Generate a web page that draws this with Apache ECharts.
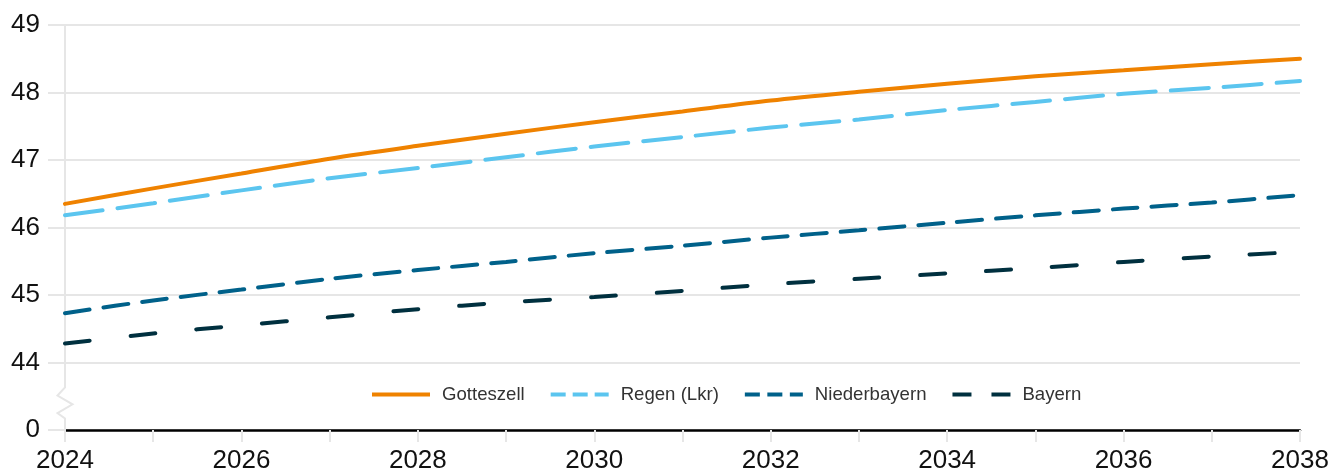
<!DOCTYPE html>
<html>
<head>
<meta charset="utf-8">
<script src="https://cdn.jsdelivr.net/npm/echarts@6/dist/echarts.min.js"></script>
<style>
html,body{margin:0;padding:0;background:#fff;}
#c{width:1335px;height:476px;}
</style>
</head>
<body>
<div id="c"></div>
<script>
const years = [2024,2025,2026,2027,2028,2029,2030,2031,2032,2033,2034,2035,2036,2037,2038];
const seriesNames = ['Gotteszell','Regen (Lkr)','Niederbayern','Bayern'];
const gotteszell   = [46.35,46.58,46.80,47.02,47.21,47.39,47.56,47.72,47.88,48.01,48.13,48.24,48.33,48.42,48.50];
const regen        = [46.18,46.36,46.55,46.73,46.88,47.04,47.20,47.34,47.48,47.60,47.74,47.86,47.98,48.07,48.17];
const niederbayern = [44.73,44.92,45.08,45.24,45.37,45.49,45.62,45.73,45.85,45.96,46.07,46.18,46.28,46.37,46.48];
const bayern       = [44.28,44.43,44.55,44.67,44.79,44.89,44.97,45.06,45.16,45.24,45.32,45.40,45.49,45.57,45.64];
// y axis: 43 stands for the broken-axis "0"
const yMin = 43, yMax = 49;
const yTickLabels = {43:'0',44:'44',45:'45',46:'46',47:'47',48:'48',49:'49'};
const xLabelYears = [2024,2026,2028,2030,2032,2034,2036,2038];

const colors = ['#EF8200','#5BC5EF','#00618A','#00303F'];
const dashes = ['solid',[38,15],[25,14],[25,41]];
const legendIcons = [
  'path://M0,0H58V4H0Z',
  'path://M0,0H15V4H0Z M22,0H37V4H22Z M44,0H58V4H44Z',
  'path://M0,0H15V4H0Z M22.5,0H37.5V4H22.5Z M45,0H58V4H45Z',
  'path://M0,0H19V4H0Z M39,0H58V4H39Z'
];
const values = [gotteszell, regen, niederbayern, bayern];

const FONT = 'Liberation Sans, Arial, Helvetica, sans-serif';
const GRID = '#e6e6e6';

const chart = echarts.init(document.getElementById('c'), null, {renderer:'canvas'});

const series = seriesNames.map((n,i)=>({
  name:n,
  type:'line',
  data: years.map((y,j)=>[y, values[i][j]]),
  symbol:'none',
  smooth:0.3,
  z: 10 - i,
  lineStyle:{color:colors[i], width:4, type:dashes[i], cap:'round'},
  itemStyle:{color:colors[i]},
  emphasis:{disabled:true}
}));

chart.setOption({
  animation:false,
  backgroundColor:'#fff',
  grid:{left:65,right:35,top:25,bottom:46},
  legend:{
    left:367, top:380,
    itemWidth:58, itemHeight:4, itemGap:26,
    itemStyle:{borderWidth:0},
    textStyle:{fontSize:18.6, color:'#333', fontFamily:FONT, padding:[0,0,0,7]},
    data: seriesNames.map((n,i)=>({name:n, icon:legendIcons[i], itemStyle:{color:colors[i], borderWidth:0}}))
  },
  xAxis:{
    type:'value', min:2024, max:2038, interval:1,
    axisLine:{show:true, lineStyle:{color:'#000', width:2.5}},
    axisTick:{show:true, length:12, lineStyle:{color:GRID, width:2}},
    splitLine:{show:false},
    axisLabel:{
      fontSize:26, color:'#111', fontFamily:FONT, margin:18,
      formatter:v => xLabelYears.indexOf(v) >= 0 ? String(v) : ''
    }
  },
  yAxis:{
    type:'value', min:yMin, max:yMax, interval:1,
    axisLine:{show:false},
    axisTick:{show:true, length:17, lineStyle:{color:GRID, width:2}},
    splitLine:{show:true, lineStyle:{color:GRID, width:2}},
    axisLabel:{
      fontSize:26, color:'#111', fontFamily:FONT, margin:25,
      formatter:v => yTickLabels[v] !== undefined ? yTickLabels[v] : ''
    }
  },
  series: series
});

// y axis line with break zigzag between 44 and "0"
const x0 = chart.convertToPixel({xAxisIndex:0}, 2024);
const yTop = chart.convertToPixel({yAxisIndex:0}, 49);
const y44 = chart.convertToPixel({yAxisIndex:0}, 44);
const y43 = chart.convertToPixel({yAxisIndex:0}, 43);
const d = y43 - y44;
chart.setOption({
  graphic:[{
    type:'polyline', z:1, silent:true,
    shape:{points:[
      [x0,yTop],[x0,y44+0.37*d],[x0-7.5,y44+0.49*d],[x0+7.5,y44+0.62*d],
      [x0-7.5,y44+0.75*d],[x0,y44+0.83*d],[x0,y43]
    ]},
    style:{stroke:GRID, lineWidth:2, fill:null}
  }]
});
</script>
</body>
</html>
